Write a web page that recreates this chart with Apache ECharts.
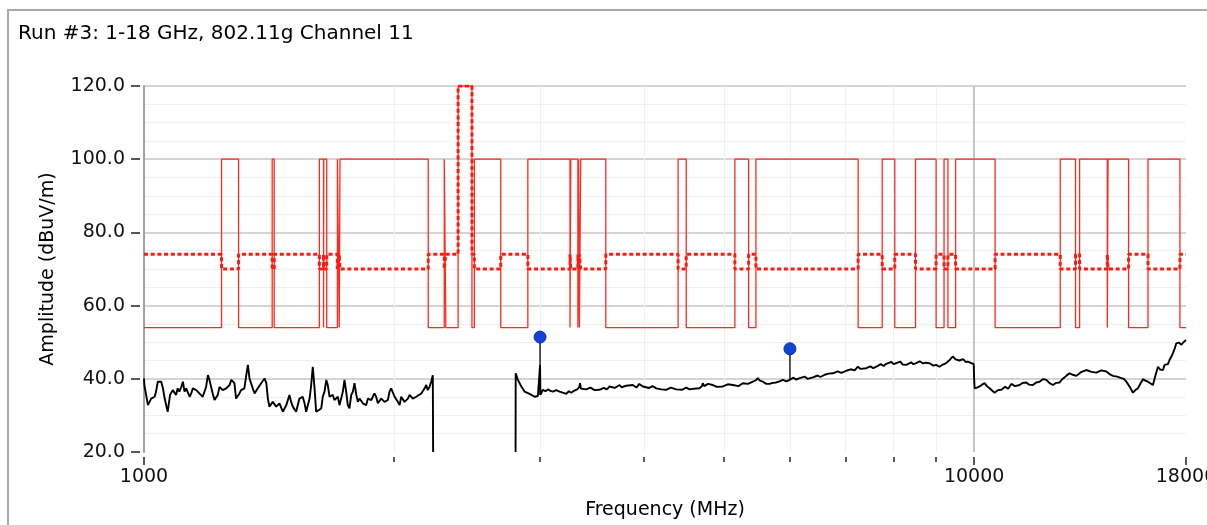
<!DOCTYPE html>
<html>
<head>
<meta charset="utf-8">
<title>Run #3: 1-18 GHz, 802.11g Channel 11</title>
<script src="https://cdn.jsdelivr.net/npm/echarts@6/dist/echarts.min.js"></script>
<style>
  html, body { margin: 0; padding: 0; background: #ffffff; }
  #chart { width: 1207px; height: 525px; }
</style>
</head>
<body>
<div id="chart"></div>
<script>
// ---- data -------------------------------------------------------------
const chartTitle = 'Run #3: 1-18 GHz, 802.11g Channel 11';
const xAxisTitle = 'Frequency (MHz)';
const yAxisTitle = 'Amplitude (dBuV/m)';

// Band edges of the limit lines (MHz)
const bandEdges = [
  1000, 1240, 1300, 1427, 1435, 1626.5, 1645.5, 1646.5, 1660, 1710,
  1718.8, 1722.2, 2200, 2300, 2310, 2390, 2483.5, 2500, 2690, 2900,
  3260, 3267, 3332, 3339, 3345.8, 3358, 3600, 4400, 4500, 5150,
  5350, 5460, 7250, 7750, 8025, 8500, 9000, 9200, 9300, 9500,
  10600, 12700, 13250, 13400, 14470, 14500, 15350, 16200, 17700, 18000
];
// Average limit in each band (dBuV/m)
const averageLimit = [
  54, 100, 54, 100, 54, 100, 54, 100, 54, 100,
  54, 100, 54, 100, 54, 120, 54, 100, 54, 100,
  54, 100, 54, 100, 54, 100, 54, 100, 54, 100,
  54, 100, 54, 100, 54, 100, 54, 100, 54, 100,
  54, 100, 54, 100, 54, 100, 54, 100, 54
];
// Peak limit in each band (dBuV/m)
const peakLimit = [
  74, 70, 74, 70, 74, 70, 74, 70, 74, 70,
  74, 70, 74, 70, 74, 120, 74, 70, 74, 70,
  74, 70, 74, 70, 74, 70, 74, 70, 74, 70,
  74, 70, 74, 70, 74, 70, 74, 70, 74, 70,
  74, 70, 74, 70, 74, 70, 74, 70, 74
];

// Measured trace, 1000 - 2230 MHz  [MHz, dBuV/m]
const traceLow = [
  [1000,40.1],[1001,38.3],[1011,32.8],[1020,34.6],[1030,35.1],[1034,36.5],[1039,39.2],[1049,39.2],
  [1054,37.4],[1059,34.6],[1068,31.0],[1075,35.6],[1083,36.9],[1088,36.5],[1093,35.6],[1098,37.4],
  [1103,36.5],[1109,37.8],[1114,39.2],[1119,36.5],[1124,37.4],[1135,35.1],[1140,36.0],[1145,37.4],
  [1156,36.9],[1166,36.0],[1177,35.1],[1188,37.8],[1194,41.0],[1199,39.7],[1210,36.0],[1216,34.2],
  [1227,35.6],[1233,37.8],[1244,36.9],[1256,37.4],[1268,38.3],[1274,39.7],[1285,38.8],[1291,34.6],
  [1303,36.0],[1309,36.9],[1321,37.4],[1328,41.0],[1334,43.8],[1340,40.1],[1352,37.4],[1359,36.0],
  [1371,37.4],[1384,38.8],[1397,40.1],[1404,38.8],[1410,34.6],[1416,32.4],[1429,33.7],[1443,32.4],
  [1456,33.3],[1470,31.0],[1484,32.8],[1497,35.6],[1504,33.7],[1511,32.4],[1525,31.0],[1539,34.6],
  [1553,35.1],[1561,33.3],[1568,31.0],[1583,34.6],[1590,38.3],[1597,43.3],[1605,37.4],[1612,31.0],
  [1620,31.5],[1635,31.9],[1642,35.1],[1650,36.5],[1658,39.7],[1665,38.3],[1673,35.1],[1688,35.6],
  [1696,34.2],[1712,35.1],[1720,32.8],[1736,36.5],[1744,39.7],[1752,36.5],[1760,32.8],[1768,31.9],
  [1777,35.6],[1785,36.5],[1793,38.8],[1802,35.6],[1810,33.7],[1818,34.6],[1835,33.3],[1852,32.8],
  [1861,34.6],[1878,34.2],[1895,36.0],[1904,35.1],[1913,33.3],[1931,34.6],[1949,33.7],[1967,34.2],
  [1976,36.5],[1985,37.4],[1994,37.8],[2004,35.1],[2022,33.7],[2032,32.8],[2041,35.1],[2060,33.7],
  [2079,34.6],[2089,35.6],[2108,34.6],[2128,35.1],[2137,35.6],[2158,36.0],[2167,36.5],[2178,37.4],
  [2188,38.3],[2197,36.9],[2208,37.8],[2218,39.2],[2228,41.0],[2230,20]
];

// Measured trace, 2803 - 10014 MHz
const traceMid = [
  [2803,20],[2804,41.5],[2821,39.7],[2848,37.9],[2874,36.5],[2914,35.9],[2955,35.1],[2982,35.3],
  [2998,35.6],[3000,43.8],[3003,35.6],[3024,37.0],[3045,36.6],[3066,37.1],[3088,36.7],[3109,36.5],
  [3138,36.9],[3167,36.5],[3196,36.2],[3226,35.9],[3250,36.6],[3271,36.2],[3300,36.8],[3330,37.2],
  [3347,37.9],[3352,38.8],[3360,37.3],[3410,37.1],[3450,37.6],[3490,36.9],[3538,37.0],[3580,37.5],
  [3610,37.1],[3638,37.9],[3690,37.5],[3740,38.3],[3760,37.7],[3810,38.1],[3880,38.3],[3920,37.6],
  [3950,38.6],[3990,37.9],[4060,37.5],[4100,38.0],[4141,37.4],[4200,37.1],[4257,37.0],[4310,37.6],
  [4377,37.1],[4450,37.0],[4500,37.6],[4541,37.1],[4600,37.3],[4669,37.4],[4700,38.0],[4712,38.8],
  [4730,38.0],[4780,38.6],[4845,38.3],[4900,37.8],[4981,37.9],[5050,38.5],[5122,38.3],[5200,38.0],
  [5266,38.8],[5340,38.6],[5414,39.2],[5460,39.6],[5489,40.2],[5520,39.5],[5566,39.2],[5620,38.6],
  [5670,38.6],[5720,38.9],[5777,39.0],[5830,39.3],[5884,39.7],[5940,39.3],[5994,39.7],[6060,40.3],
  [6100,39.8],[6163,40.2],[6250,40.6],[6300,40.0],[6395,40.4],[6480,40.9],[6530,40.5],[6606,41.1],
  [6680,41.4],[6760,41.5],[6850,42.0],[6920,41.6],[7016,42.2],[7100,42.6],[7180,42.3],[7244,43.3],
  [7300,42.7],[7415,42.9],[7500,43.4],[7560,42.9],[7623,43.3],[7720,44.0],[7780,43.5],[7837,44.1],
  [7950,44.6],[8000,44.0],[8057,44.3],[8150,44.7],[8200,43.9],[8283,43.8],[8400,44.5],[8450,44.0],
  [8516,44.3],[8600,44.8],[8680,44.2],[8756,44.4],[8850,44.2],[8930,43.6],[9001,43.8],[9084,43.3],
  [9170,43.9],[9255,44.3],[9340,45.1],[9426,46.1],[9500,45.3],[9603,45.0],[9700,45.4],[9770,44.6],
  [9829,44.7],[9880,44.9],[9923,44.3],[9990,44.0],[10000,40.2],[10014,37.4]
];

// Measured trace, 10080 - 18000 MHz
const traceHigh = [
  [10080,37.6],[10154,37.9],[10220,38.4],[10296,38.8],[10360,38.0],[10440,37.4],[10510,36.8],[10585,36.2],
  [10680,36.9],[10784,37.0],[10900,37.8],[10990,37.3],[11088,38.6],[11200,38.0],[11346,38.3],[11450,38.9],
  [11559,39.0],[11650,38.4],[11772,38.3],[11880,39.0],[11993,39.2],[12100,39.9],[12218,39.7],[12330,38.8],
  [12444,38.3],[12560,38.9],[12678,39.0],[12760,39.8],[12855,40.4],[12940,41.0],[13034,41.5],[13150,41.1],
  [13279,40.8],[13450,41.8],[13652,42.4],[13850,41.9],[14037,41.7],[14230,42.3],[14432,42.0],[14560,41.3],
  [14698,40.8],[14870,40.6],[15045,40.2],[15150,40.0],[15255,39.2],[15400,37.8],[15537,36.2],[15650,37.0],
  [15754,37.4],[15870,38.8],[15974,39.9],[16080,39.5],[16197,39.2],[16300,38.8],[16423,38.3],[16540,41.0],
  [16652,43.3],[16760,42.5],[16885,42.4],[16960,43.8],[17045,43.3],[17120,44.0],[17201,45.2],[17280,46.0],
  [17360,47.0],[17440,48.2],[17524,49.7],[17640,49.9],[17769,49.3],[17880,50.0],[18000,50.6]
];

// Peak markers
const markerFreq  = [3000, 6000];
const markerLevel = [51.4, 48.2];
const markerBase  = [35.6, 39.8];

// Axis ticks
const freqMajor = [1000, 10000, 18000];
const freqMinor = [2000, 3000, 4000, 5000, 6000, 7000, 8000, 9000];
const ampMin = 20, ampMax = 120, ampStep = 20;

// ---- helpers ----------------------------------------------------------
function stepLine(edges, levels) {
  const pts = [];
  for (let i = 0; i < levels.length; i++) {
    pts.push([edges[i], levels[i]]);
    pts.push([edges[i + 1], levels[i]]);
  }
  return pts;
}

const traceData = traceLow.concat([[2500, null]], traceMid, traceHigh);

const stemSeries = markerFreq.map((f, i) => ({
  type: 'line',
  name: 'stem' + i,
  data: [[f, markerBase[i]], [f, markerLevel[i]]],
  showSymbol: false,
  symbol: 'none',
  lineStyle: { color: '#000', width: 1.3 },
  z: 5,
  silent: true
}));

const FONT = '"DejaVu Sans", Verdana, sans-serif';
const RED = '#ff2a1e';

const chart = echarts.init(document.getElementById('chart'), null, { renderer: 'canvas' });

const logAxisBase = {
  type: 'log',
  logBase: 10,
  min: 1000,
  max: 18000,
  gridIndex: 0
};

chart.setOption({
  animation: false,
  backgroundColor: '#ffffff',
  grid: { left: 144, right: 21, top: 86, bottom: 73, containLabel: false, outerBoundsMode: 'none' },
  graphic: [
    {
      type: 'rect',
      shape: { x: 8, y: 10, width: 1260, height: 560 },
      style: { fill: 'none', stroke: '#a9a9a9', lineWidth: 2 },
      silent: true
    },
    {
      type: 'text', left: 18, top: 24,
      style: { text: chartTitle, font: '20px ' + FONT, fill: '#000' }
    },
    {
      type: 'text', x: 665, y: 510,
      style: { text: xAxisTitle, font: '19px ' + FONT, fill: '#000', textAlign: 'center', textVerticalAlign: 'middle' }
    },
    {
      type: 'text', x: 48, y: 269, rotation: Math.PI / 2,
      style: { text: yAxisTitle, font: '19px ' + FONT, fill: '#000', textAlign: 'center', textVerticalAlign: 'middle' }
    }
  ],
  xAxis: [
    Object.assign({}, logAxisBase, {
      axisLine: { show: false },
      axisTick: { show: false },
      axisLabel: { show: false },
      splitLine: { show: false }
    }),
    Object.assign({}, logAxisBase, {
      position: 'bottom',
      offset: 5,
      axisLine: { show: false },
      axisTick: { show: true, length: 5, customValues: freqMinor, lineStyle: { color: '#222', width: 1.5 } },
      axisLabel: { show: false },
      splitLine: { show: false }
    }),
    Object.assign({}, logAxisBase, {
      position: 'bottom',
      offset: 5,
      axisLine: { show: false },
      axisTick: { show: true, length: 8, customValues: freqMajor, lineStyle: { color: '#222', width: 1.5 } },
      axisLabel: {
        show: true, customValues: freqMajor, margin: 11,
        fontFamily: FONT, fontSize: 19, color: '#111',
        showMinLabel: true, showMaxLabel: true, hideOverlap: false,
        formatter: v => String(Math.round(v))
      },
      splitLine: { show: false }
    })
  ],
  yAxis: [
    {
      type: 'value', min: ampMin, max: ampMax, interval: ampStep,
      axisLine: { show: true, lineStyle: { color: '#a0a0a0', width: 2 } },
      axisTick: { show: false },
      axisLabel: { show: false },
      splitLine: {
        show: true,
        lineStyle: { color: ['rgba(0,0,0,0)', '#c6c6c6', '#c6c6c6', '#c6c6c6', '#c6c6c6', '#c6c6c6'], width: 1.5 }
      },
      minorTick: { show: false, splitNumber: 4 },
      minorSplitLine: { show: true, lineStyle: { color: '#f0f0f0', width: 1 } }
    },
    {
      type: 'value', min: ampMin, max: ampMax, interval: ampStep,
      position: 'left', offset: 4,
      axisLine: { show: false },
      axisTick: { show: true, length: 9, lineStyle: { color: '#222', width: 1.5 } },
      axisLabel: {
        show: true, margin: 15, fontFamily: FONT, fontSize: 19, color: '#111',
        formatter: v => v.toFixed(1)
      },
      splitLine: { show: false }
    }
  ],
  series: [
    {
      // vertical grid lines, kept underneath the traces
      type: 'line', name: 'grid', data: [], z: 1, silent: true,
      markLine: {
        z: 1,
        silent: true, symbol: 'none', label: { show: false }, animation: false,
        data: freqMinor.map(f => ({ xAxis: f, lineStyle: { color: '#f0f0f0', width: 1, type: 'solid' } }))
          .concat([{ xAxis: 10000, lineStyle: { color: '#c6c6c6', width: 2, type: 'solid' } }])
      }
    },
    {
      type: 'line', name: 'Average limit', data: stepLine(bandEdges, averageLimit),
      showSymbol: false, symbol: 'none', z: 3,
      lineStyle: { color: RED, width: 1.3 }
    },
    {
      type: 'line', name: 'Peak limit', data: stepLine(bandEdges, peakLimit),
      showSymbol: false, symbol: 'none', z: 3,
      lineStyle: { color: '#ff1a10', width: 3, type: [4, 2.7] }
    },
    {
      type: 'line', name: 'Trace', data: traceData, connectNulls: false,
      showSymbol: false, symbol: 'none', z: 4,
      lineStyle: { color: '#000', width: 1.9 }
    }
  ].concat(stemSeries, [
    {
      type: 'scatter', name: 'Markers', z: 6,
      data: markerFreq.map((f, i) => [f, markerLevel[i]]),
      symbol: 'circle', symbolSize: 12,
      itemStyle: { color: '#1244d4', borderColor: '#0a2fa8', borderWidth: 1, opacity: 1 }
    }
  ])
});
</script>
</body>
</html>
